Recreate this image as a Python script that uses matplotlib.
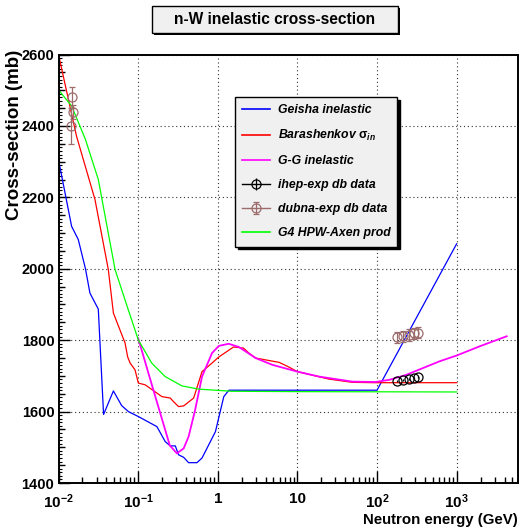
import numpy as np
import matplotlib
matplotlib.use("Agg")
import matplotlib.pyplot as plt
from matplotlib.lines import Line2D
from matplotlib.patches import Rectangle
from matplotlib.ticker import LogLocator, MultipleLocator, FuncFormatter, NullFormatter

plt.rcParams['font.family'] = ['Liberation Sans', 'DejaVu Sans']
plt.rcParams['font.weight'] = 'bold'
plt.rcParams['axes.labelweight'] = 'bold'
plt.rcParams['mathtext.fontset'] = 'custom'
plt.rcParams['mathtext.rm'] = 'Liberation Sans:bold'
plt.rcParams['mathtext.bf'] = 'Liberation Sans:bold'
plt.rcParams['mathtext.it'] = 'Liberation Sans:italic:bold'

# Geisha inelastic
geisha_e = [0.01, 0.0146, 0.0177, 0.0218, 0.0248, 0.0316, 0.0368, 0.0489, 0.062, 0.0755,
            0.101, 0.172, 0.219, 0.253, 0.293, 0.322, 0.373, 0.43, 0.548, 0.634,
            0.935, 1.19, 1.38, 100, 1000]
geisha_xs = [2305, 2119, 2082, 2000, 1932, 1887, 1592, 1658, 1617, 1600,
             1586, 1558, 1516, 1504, 1504, 1479, 1472, 1457, 1457, 1470,
             1544, 1642, 1660, 1660, 2070]

# Barashenkov sigma_in
bar_e = [0.01, 0.0168, 0.0287, 0.0422, 0.0489, 0.0685, 0.0739, 0.0793, 0.0914, 0.1005,
         0.1225, 0.199, 0.253, 0.278, 0.322, 0.373, 0.498, 0.634, 0.847, 1.03,
         1.58, 2.1, 2.46, 2.99, 5.88, 7.48, 10, 25, 49, 96, 1000]
bar_xs = [2600, 2372, 2194, 1998, 1876, 1792, 1753, 1736, 1717, 1680,
          1675, 1642, 1638, 1628, 1614, 1616, 1638, 1712, 1736, 1753,
          1781, 1778, 1764, 1750, 1738, 1727, 1712, 1691, 1682, 1681, 1681]

# Glauber-Gribov inelastic
gg_e = [0.1, 0.15, 0.25, 0.307, 0.373, 0.43, 0.52, 0.634, 0.847, 1.03,
        1.37, 1.84, 2.99, 4.84, 10, 18.8, 49, 96, 143, 233,
        612, 997, 1955, 4250]
gg_xs = [1806, 1672, 1505, 1483, 1497, 1530, 1605, 1698, 1764, 1784,
         1790, 1781, 1750, 1731, 1712, 1698, 1684, 1683, 1689, 1703,
         1741, 1757, 1783, 1811]

# G4 HPW-Axen production
axen_e = [0.01, 0.0146, 0.0218, 0.0316, 0.0513, 0.0755, 0.1005, 0.148, 0.219, 0.355,
          0.576, 1.5, 10, 1000]
axen_xs = [2501, 2456, 2362, 2250, 1998, 1884, 1801, 1736, 1698, 1672,
           1663, 1657, 1656, 1655]

# measured points
ihep_e = [180, 210, 250, 290, 330]
ihep_xs = [1686, 1688, 1691, 1694, 1697]
ihep_err = [3, 3, 3, 3, 3]

dubna_e = [0.0147, 0.0150, 0.0143, 180, 210, 250, 290, 330]
dubna_xs = [2480, 2440, 2400, 1808, 1811, 1815, 1819, 1821]
dubna_err = [30, 20, 50, 16, 16, 16, 16, 16]

dubna_col = '#9c6b6b'

fig = plt.figure(figsize=(5.22, 5.29), dpi=100)
ax = fig.add_axes([0.1121, 0.0869, 0.8803, 0.810])

ax.plot(geisha_e, geisha_xs, color='blue', lw=0.9)
ax.plot(bar_e, bar_xs, color='red', lw=0.9)
ax.plot(gg_e, gg_xs, color='#ff00ff', lw=1.3)
ax.plot(axen_e, axen_xs, color='#00ff00', lw=0.9)
ihep = ax.errorbar(ihep_e, ihep_xs, yerr=ihep_err, fmt='o', ms=6.5, mfc='none',
                   mec='black', mew=0.9, ecolor='black', elinewidth=0.9, capsize=0)
dubna = ax.errorbar(dubna_e, dubna_xs, yerr=dubna_err, fmt='o', ms=6.5, mfc='none',
                    mec=dubna_col, mew=0.9, ecolor=dubna_col, elinewidth=0.9, capsize=2)

ax.set_xscale('log')
ax.set_xlim(0.01, 5900)
ax.set_ylim(1400, 2600)

ax.xaxis.set_major_locator(LogLocator(base=10, numticks=12))
ax.xaxis.set_minor_locator(LogLocator(base=10, subs=np.arange(2, 10), numticks=12))
ax.xaxis.set_minor_formatter(NullFormatter())


def energy_label(v, pos):
    if v in (1, 10):
        return '%g' % v
    return r'$10^{%d}$' % round(np.log10(v))


ax.xaxis.set_major_formatter(FuncFormatter(energy_label))
ax.yaxis.set_major_locator(MultipleLocator(200))
ax.yaxis.set_minor_locator(MultipleLocator(50))

ax.tick_params(which='both', direction='in', top=False, right=False)
ax.tick_params(axis='x', which='major', length=8.5, width=1, pad=6.5, labelsize=11)
ax.tick_params(axis='x', which='minor', length=4.3, width=1)
ax.tick_params(axis='y', which='major', length=8, width=1, pad=3, labelsize=10.5)
ax.tick_params(axis='y', which='minor', length=4.3, width=1)

# finest y divisions every 10 mb
fine = ax.secondary_yaxis('left')
fine.set_yticks(np.arange(1400, 2601, 10))
fine.tick_params(direction='in', length=2, width=0.8, labelleft=False)
fine.spines['left'].set_visible(False)

ax.grid(True, which='major', color='#333333', lw=0.8, linestyle=(0, (1, 2.5)))
for s in ax.spines.values():
    s.set_linewidth(1.4)

ax.set_xlabel('Neutron energy (GeV)', fontsize=10.8, loc='right')
ax.xaxis.set_label_coords(1.0, -0.069)
ax.set_ylabel('Cross-section (mb)', fontsize=13.5, loc='top')
ax.yaxis.set_label_coords(-0.077, 1.012)

handles = [
    Line2D([], [], color='blue', lw=1.2),
    Line2D([], [], color='red', lw=1.2),
    Line2D([], [], color='#ff00ff', lw=1.2),
    (Line2D([], [], color='black', lw=1), ihep),
    (Line2D([], [], color=dubna_col, lw=1), dubna),
    Line2D([], [], color='#00ff00', lw=1.2),
]
labels = ['Geisha inelastic', r'Barashenkov $\mathrm{\sigma}_{in}$', 'G-G inelastic',
          'ihep-exp db data', 'dubna-exp db data', 'G4 HPW-Axen prod']
leg = ax.legend(handles, labels, loc='upper left', bbox_to_anchor=(0.384, 0.562, 0.353, 0.339),
                mode='expand', borderaxespad=0, fancybox=False, framealpha=1,
                facecolor='#f0f0f0', edgecolor='black', handlelength=2.3, handletextpad=0.6,
                labelspacing=0.98, borderpad=0.6,
                prop={'size': 8.8, 'style': 'italic', 'weight': 'bold'},
                shadow={'color': 'black', 'alpha': 1})
leg.get_frame().set_linewidth(1)

# title box with drop shadow
fig.add_artist(Rectangle((0.2950, 0.9338), 0.4713, 0.0510, transform=fig.transFigure,
                         facecolor='black', edgecolor='black', lw=0))
fig.add_artist(Rectangle((0.2912, 0.9376), 0.4713, 0.0510, transform=fig.transFigure,
                         facecolor='#f0f0f0', edgecolor='black', lw=1))
fig.text(0.5268, 0.9625, 'n-W inelastic cross-section', ha='center', va='center',
         fontsize=11.2, fontweight='bold')

fig.savefig('out.png', dpi=100)
